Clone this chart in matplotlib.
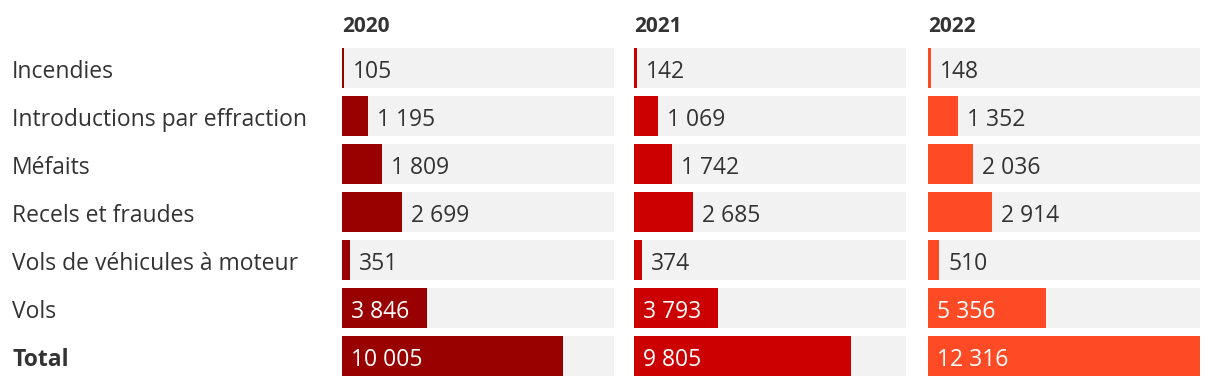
import matplotlib
matplotlib.use("Agg")
import matplotlib.pyplot as plt

plt.rcParams['font.family'] = ['Open Sans', 'DejaVu Sans']

categories = ['Incendies', 'Introductions par effraction', 'Méfaits',
              'Recels et fraudes', 'Vols de véhicules à moteur', 'Vols', 'Total']
years = ['2020', '2021', '2022']
v2020 = [105, 1195, 1809, 2699, 351, 3846, 10005]
v2021 = [142, 1069, 1742, 2685, 374, 3793, 9805]
v2022 = [148, 1352, 2036, 2914, 510, 5356, 12316]
colors = ['#990000', '#cc0000', '#ff4a26']

W, H = 1220, 386
fig = plt.figure(figsize=(W / 100, H / 100), dpi=100)

vmax = max(v2020 + v2021 + v2022)
panel_left = [342, 634, 928]
panel_w = 272
top, bottom = 48, 376
txt = '#333333'
fs = 16.5
base = 9.5  # baseline offset below row centre, px


def fmt(v):
    return f'{v:,}'.replace(',', ' ')


for k, (vals, year) in enumerate(zip([v2020, v2021, v2022], years)):
    ax = fig.add_axes([panel_left[k] / W, 1 - bottom / H, panel_w / W, (bottom - top) / H])
    ypos = list(range(len(categories)))
    ax.barh(ypos, [vmax] * len(ypos), height=40 / 48, color='#f2f2f2', linewidth=0)
    ax.barh(ypos, vals, height=40 / 48, color=colors[k], linewidth=0)
    ax.set_xlim(0, vmax)
    ax.set_ylim(6 + 20 / 48, -20 / 48)
    ax.axis('off')
    px = vmax / panel_w
    for y, v in zip(ypos, vals):
        yb = y + base / 48
        if v > 3000:
            ax.text(9 * px, yb, fmt(v), color='white', fontsize=fs, va='baseline', ha='left')
        else:
            ax.text(v + 9 * px, yb, fmt(v), color=txt, fontsize=fs, va='baseline', ha='left')
    fig.text(panel_left[k] / W, 1 - 32 / H, year, fontsize=15, fontweight='bold',
             color=txt, va='baseline', ha='left')

for i, cat in enumerate(categories):
    yb = top + 20 + base + 48 * i
    fig.text(12 / W, 1 - yb / H, cat, fontsize=fs, color=txt, va='baseline', ha='left',
             fontweight='bold' if cat == 'Total' else 'normal')

fig.savefig('out.png', dpi=100)
